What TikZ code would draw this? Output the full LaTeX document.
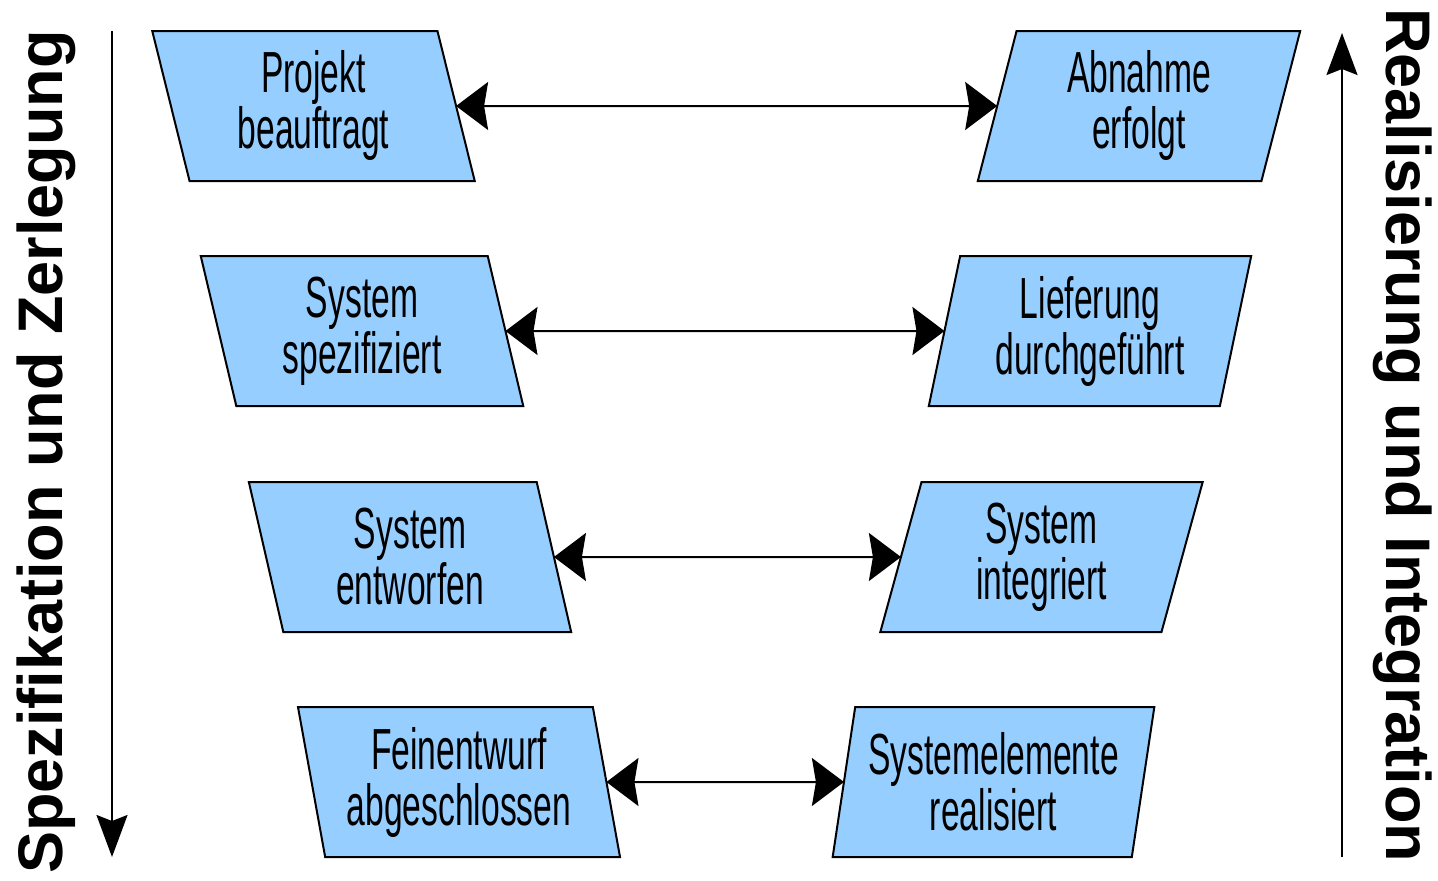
\documentclass[tikz,border=0pt]{standalone}
\usepackage{fontspec}
\setmainfont{Liberation Sans}
\newfontfamily\narrowfont[FakeStretch=0.58]{Liberation Sans}
\usetikzlibrary{arrows.meta, positioning, shapes.geometric}
\definecolor{boxblue}{HTML}{96CEFF}

\begin{document}
\begin{tikzpicture}[x=1pt, y=-1pt,
    stage/.style={trapezium, trapezium stretches=true, draw=black, line width=2pt, fill=boxblue, minimum width=323pt, minimum height=150pt, inner sep=0pt, outer sep=0pt, align=center, font=\narrowfont\fontsize{58}{56}\selectfont},
    leftstage/.style={stage, trapezium left angle=101.7, trapezium right angle=78.3},
    rightstage/.style={stage, trapezium left angle=78.3, trapezium right angle=101.7},
    pair/.style={{Stealth[length=32pt, width=48pt, inset=4pt]}-{Stealth[length=32pt, width=48pt, inset=4pt]}, line width=2pt},
    phase/.style={-{Stealth[length=42pt, width=31pt, inset=6pt]}, line width=2pt},
    sidelabel/.style={font=\bfseries\fontsize{63}{63}\selectfont, inner sep=0pt, anchor=base west}
  ]
  \useasboundingbox (0,0) rectangle (1438,881);
  % Spezifikation (links)
  \node[leftstage] (proj) at (313.5,106) {Projekt\\beauftragt};
  \node[leftstage] (spez) at (362,331) {System\\spezifiziert};
  \node[leftstage] (entw) at (410,557) {System\\entworfen};
  \node[leftstage] (fein) at (459,782) {Feinentwurf\\abgeschlossen};
  % Realisierung (rechts)
  \node[rightstage] (abn) at (1139,106) {Abnahme\\erfolgt};
  \node[rightstage] (lief) at (1090,331) {Lieferung\\durchgeführt};
  \node[rightstage] (integ) at (1041.5,557) {System\\integriert};
  \node[rightstage] (real) at (993.5,782) {Systemelemente\\realisiert};
  \draw[pair] (proj) -- (abn);
  \draw[pair] (spez) -- (lief);
  \draw[pair] (entw) -- (integ);
  \draw[pair] (fein) -- (real);
  % Phasenpfeile
  \coordinate (ltop) at (112,31);
  \coordinate (lbot) at (112,857);
  \coordinate (rbot) at (1342,857);
  \coordinate (rtop) at (1342,33);
  \draw[phase] (ltop) -- (lbot);
  \draw[phase] (rbot) -- (rtop);
  \node[sidelabel, rotate=90] (spec) at (62,874) {Spezifikation und Zerlegung};
  \node[sidelabel, rotate=-90] (realis) at (1386,8) {Realisierung und Integration};
\end{tikzpicture}
\end{document}
